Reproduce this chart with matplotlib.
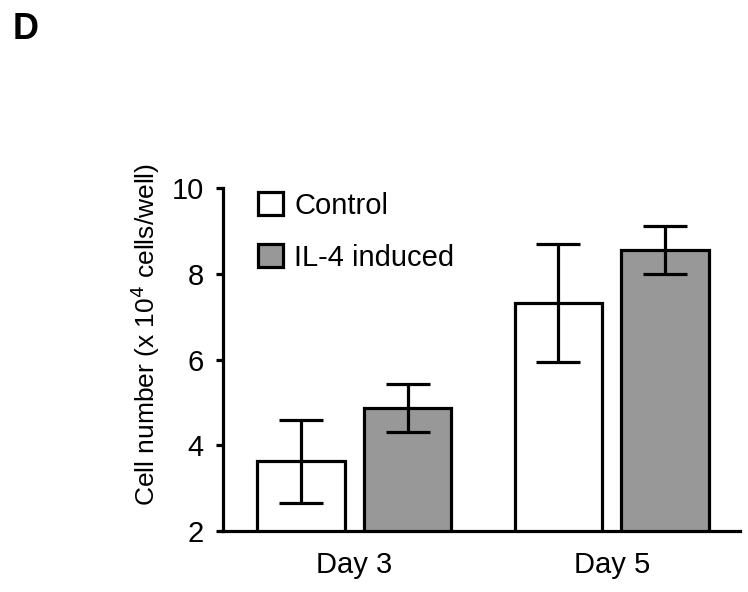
import numpy as np
import matplotlib
matplotlib.use("Agg")
import matplotlib.pyplot as plt

plt.rcParams["font.family"] = ["Liberation Sans", "DejaVu Sans"]

days = ["Day 3", "Day 5"]
control = [3.63, 7.32]
control_err = [0.97, 1.37]
il4 = [4.87, 8.55]
il4_err = [0.57, 0.56]
series_labels = ["Control", "IL-4 induced"]

fig = plt.figure(figsize=(7.48, 5.92), dpi=100)
ax = fig.add_axes([223.3 / 748, 1 - 531 / 592, (740 - 223.3) / 748, (531 - 188.3) / 592])

x = np.arange(len(days))
off = 0.207
w = 0.34
lw = 2.3

ax.bar(x - off, control, width=w, color="white", edgecolor="black", linewidth=lw,
       label=series_labels[0], zorder=2)
ax.bar(x + off, il4, width=w, color="#989898", edgecolor="black", linewidth=lw,
       label=series_labels[1], zorder=2)
ax.errorbar(x - off, control, yerr=control_err, fmt="none", ecolor="black",
            elinewidth=lw, capsize=15.5, capthick=lw, zorder=3)
ax.errorbar(x + off, il4, yerr=il4_err, fmt="none", ecolor="black",
            elinewidth=lw, capsize=15.5, capthick=lw, zorder=3)

ax.set_xlim(-0.509, 1.498)
ax.set_ylim(2, 10)
ax.set_yticks([2, 4, 6, 8, 10])
ax.set_xticks(x)
ax.set_xticklabels(days)

for s in ["top", "right"]:
    ax.spines[s].set_visible(False)
for s in ["left", "bottom"]:
    ax.spines[s].set_linewidth(lw)

ax.tick_params(axis="y", length=5, width=lw, labelsize=21, pad=9)
ax.tick_params(axis="x", length=0, labelsize=21, pad=14.5)

ax.set_ylabel("Cell number (x 10$^{4}$ cells/well)", fontsize=19)
ax.yaxis.set_label_coords(-0.1186, 0.572)

leg = ax.legend(loc="upper left", bbox_to_anchor=(0.0666, 0.99), frameon=False,
                fontsize=21, handlelength=0.86, handleheight=0.86,
                handletextpad=0.4, labelspacing=0.82, borderpad=0, borderaxespad=0)

fig.text(13 / 748, 1 - 39 / 592, "D", fontsize=26, fontweight="bold", ha="left", va="baseline")

fig.savefig("out.png", dpi=100)
